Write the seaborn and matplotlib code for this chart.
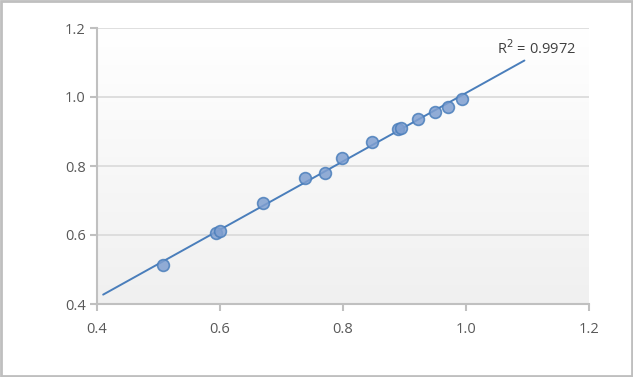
import numpy as np
import pandas as pd
import matplotlib
matplotlib.use("Agg")
import matplotlib.pyplot as plt
import seaborn as sns
from matplotlib.patches import Rectangle
from matplotlib.colors import LinearSegmentedColormap

x_vals = [0.507, 0.594, 0.600, 0.670, 0.738, 0.771, 0.798, 0.847, 0.889, 0.894, 0.922, 0.950, 0.970, 0.993]
y_vals = [0.513, 0.605, 0.611, 0.693, 0.764, 0.779, 0.823, 0.870, 0.907, 0.910, 0.935, 0.956, 0.972, 0.995]
x_ticks = [0.4, 0.6, 0.8, 1.0, 1.2]
x_tick_labels = ["0.4", "0.6", "0.8", "1.0", "1.2"]
y_ticks = [0.4, 0.6, 0.8, 1.0, 1.2]
y_tick_labels = ["0.4", "0.6", "0.8", "1.0", "1.2"]
r2_label = "R$^2$ = 0.9972"
trend_range = [0.41, 1.095]

df = pd.DataFrame({"x": x_vals, "y": y_vals})

sns.set_theme(style="white")
plt.rcParams['font.family'] = ['Open Sans', 'DejaVu Sans']

fig = plt.figure(figsize=(6.33, 3.77), dpi=100)
ax = fig.add_axes([97/633, 1-304/377, 492/633, 276/377])

# figure border
fig.patches.append(Rectangle((0.0015, 0.0025), 0.997, 0.995, transform=fig.transFigure,
                             fill=False, edgecolor="#bfbfbf", linewidth=2))

# gradient background (white at top, light grey at bottom)
grad = np.linspace(0.0, 1.0, 256).reshape(-1, 1)
cmap = LinearSegmentedColormap.from_list("g", ["#f0f0f0", "#ffffff"])
ax.imshow(grad, extent=[0.4, 1.2, 0.4, 1.2], aspect="auto", cmap=cmap, origin="lower",
          zorder=0)
ax.set_xlim(0.4, 1.2)
ax.set_ylim(0.4, 1.2)

for yt in y_ticks[1:]:
    ax.axhline(yt, color="#d9d9d9", linewidth=1.2, zorder=1)

# trendline
coef = np.polyfit(df["x"], df["y"], 1)
tx = np.array(trend_range)
ax.plot(tx, np.polyval(coef, tx), color="#4a7ebb", linewidth=1.4, zorder=2)

sns.scatterplot(data=df, x="x", y="y", ax=ax, s=72, color="#7f9fd0", alpha=0.85,
                edgecolor="#4a7ebb", linewidth=1.2, zorder=3, legend=False)

ax.set_xticks(x_ticks)
ax.set_xticklabels(x_tick_labels)
ax.set_yticks(y_ticks)
ax.set_yticklabels(y_tick_labels)
ax.set_xlabel("")
ax.set_ylabel("")
for s in ["top", "right"]:
    ax.spines[s].set_visible(False)
for s in ["left", "bottom"]:
    ax.spines[s].set_color("#c0c0c0")
    ax.spines[s].set_linewidth(1.5)
ax.tick_params(axis="both", which="both", direction="out", length=5, width=1.5,
               color="#c0c0c0", labelcolor="#595959", labelsize=10.5, pad=3,
               bottom=True, left=True)
ax.tick_params(axis="x", pad=8)

ax.text(1.114, 1.14, r2_label, color="#404040", fontsize=10.5, ha="center", va="center")

fig.savefig("out.png", dpi=100)
